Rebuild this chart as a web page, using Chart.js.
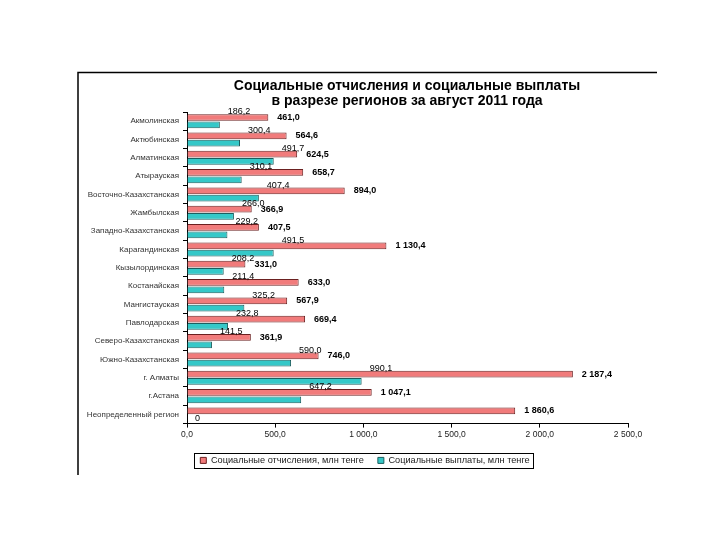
<!DOCTYPE html>
<html>
<head>
<meta charset="utf-8">
<script src="https://cdn.jsdelivr.net/npm/chart.js@4"></script>
<style>
  html, body { margin: 0; padding: 0; background: #fff; }
  #wrap { width: 720px; height: 540px; }
</style>
</head>
<body>
<div id="wrap"><canvas id="chart"></canvas></div>
<script>
// Регионы (сверху вниз)
const regions = [
    'Акмолинская', 'Актюбинская', 'Алматинская', 'Атырауская', 'Восточно-Казахстанская',
    'Жамбылская', 'Западно-Казахстанская', 'Карагандинская', 'Кызылординская', 'Костанайская',
    'Мангистауская', 'Павлодарская', 'Северо-Казахстанская', 'Южно-Казахстанская',
    'г. Алматы', 'г.Астана', 'Неопределенный регион'
];
// Социальные отчисления, млн тенге
const otchisleniya = [461.0, 564.6, 624.5, 658.7, 894.0, 366.9, 407.5, 1130.4, 331.0, 633.0,
    567.9, 669.4, 361.9, 746.0, 2187.4, 1047.1, 1860.6];
// Социальные выплаты, млн тенге
const vyplaty = [186.2, 300.4, 491.7, 310.1, 407.4, 266.0, 229.2, 491.5, 208.2, 211.4,
    325.2, 232.8, 141.5, 590.0, 990.1, 647.2, 0];
const xTicks = [0, 500, 1000, 1500, 2000, 2500];

const seriesNames = ['Социальные отчисления, млн тенге', 'Социальные выплаты, млн тенге'];
const titleLines = ['Социальные отчисления и социальные выплаты', 'в разрезе регионов за август 2011 года'];

// формат "1 130,4"
function fmt(v) {
    const s = Math.abs(v).toFixed(1).split('.');
    const int = s[0].replace(/\B(?=(\d{3})+(?!\d))/g, ' ');
    return (v < 0 ? '-' : '') + int + ',' + s[1];
}

const FONT = '"Liberation Sans", Arial, sans-serif';

// заголовок, рамка и рамка легенды
const decorPlugin = {
    id: 'decor',
    beforeDraw(chart) {
        const ctx = chart.ctx;
        ctx.save();
        ctx.strokeStyle = '#000';
        ctx.lineWidth = 1.5;
        ctx.beginPath();
        ctx.moveTo(78, 475);
        ctx.lineTo(78, 72.5);
        ctx.lineTo(657, 72.5);
        ctx.stroke();
        ctx.fillStyle = '#000';
        ctx.font = 'bold 14px ' + FONT;
        ctx.textAlign = 'center';
        ctx.textBaseline = 'middle';
        ctx.fillText(titleLines[0], 407, 86);
        ctx.fillText(titleLines[1], 407, 101);
        ctx.restore();
    },
    afterDraw(chart) {
        const boxes = chart.legend.legendHitBoxes;
        if (!boxes || !boxes.length) return;
        let l = Infinity, r = -Infinity, t = Infinity, b = -Infinity;
        boxes.forEach(h => {
            l = Math.min(l, h.left); r = Math.max(r, h.left + h.width);
            t = Math.min(t, h.top); b = Math.max(b, h.top + h.height);
        });
        const ctx = chart.ctx;
        ctx.save();
        ctx.strokeStyle = '#000';
        ctx.lineWidth = 1;
        ctx.strokeRect(Math.round(l - 6) + 0.5, Math.round(t - 3) + 0.5, Math.round(r - l + 10), Math.round(b - t + 6));
        ctx.restore();
    }
};

// подписи значений
const labelsPlugin = {
    id: 'valueLabels',
    afterDatasetsDraw(chart) {
        const ctx = chart.ctx;
        ctx.save();
        ctx.fillStyle = '#000';
        ctx.textAlign = 'left';
        ctx.textBaseline = 'middle';
        chart.data.datasets.forEach((ds, di) => {
            const meta = chart.getDatasetMeta(di);
            meta.data.forEach((el, i) => {
                const v = ds.data[i];
                if (di === 0) {
                    ctx.font = 'bold 9px ' + FONT;
                    ctx.fillText(fmt(v), el.x + 9, el.y);
                } else {
                    ctx.font = '9px ' + FONT;
                    if (v === 0) {
                        ctx.fillText('0', el.x + 8, el.y);
                    } else {
                        ctx.fillText(fmt(v), el.x + 8, el.y - 13);
                    }
                }
            });
        });
        ctx.restore();
    }
};

new Chart(document.getElementById('chart'), {
    type: 'bar',
    data: {
        labels: regions,
        datasets: [
            {
                label: seriesNames[0],
                data: otchisleniya,
                backgroundColor: '#F17B7B',
                borderColor: '#6B2020',
                borderWidth: 1,
                categoryPercentage: 0.8,
                barPercentage: 0.92
            },
            {
                label: seriesNames[1],
                data: vyplaty,
                backgroundColor: '#35C8C8',
                borderColor: '#1C5E5E',
                borderWidth: 1,
                categoryPercentage: 0.8,
                barPercentage: 0.92
            }
        ]
    },
    options: {
        indexAxis: 'y',
        responsive: true,
        maintainAspectRatio: false,
        animation: false,
        layout: { padding: { left: 102, right: 92, top: 112, bottom: 65 } },
        plugins: {
            title: { display: false },
            tooltip: { enabled: false },
            legend: {
                position: 'bottom',
                labels: {
                    font: { family: FONT, size: 9.2 },
                    color: '#222',
                    boxWidth: 6,
                    boxHeight: 6,
                    padding: 14,
                    useBorderRadius: false
                }
            }
        },
        scales: {
            x: {
                min: 0,
                max: 2500,
                afterBuildTicks(scale) { scale.ticks = xTicks.map(v => ({ value: v })); },
                ticks: {
                    callback: v => fmt(v),
                    font: { family: FONT, size: 8.5 },
                    color: '#222',
                    padding: 2,
                    maxRotation: 0
                },
                grid: { drawOnChartArea: false, color: '#000', tickLength: 4 },
                border: { color: '#000', width: 1 }
            },
            y: {
                afterFit(scale) {
                    scale.width = 85;
                    // длинные подписи выходят за левый край оси — не обрезать
                    scale._computeLabelArea = () => undefined;
                },
                ticks: {
                    font: { family: FONT, size: 8 },
                    color: '#333',
                    padding: 4,
                    autoSkip: false
                },
                grid: { drawOnChartArea: false, color: '#000', tickLength: 4, offset: true },
                border: { color: '#000', width: 1 }
            }
        }
    },
    plugins: [decorPlugin, labelsPlugin]
});
</script>
</body>
</html>
